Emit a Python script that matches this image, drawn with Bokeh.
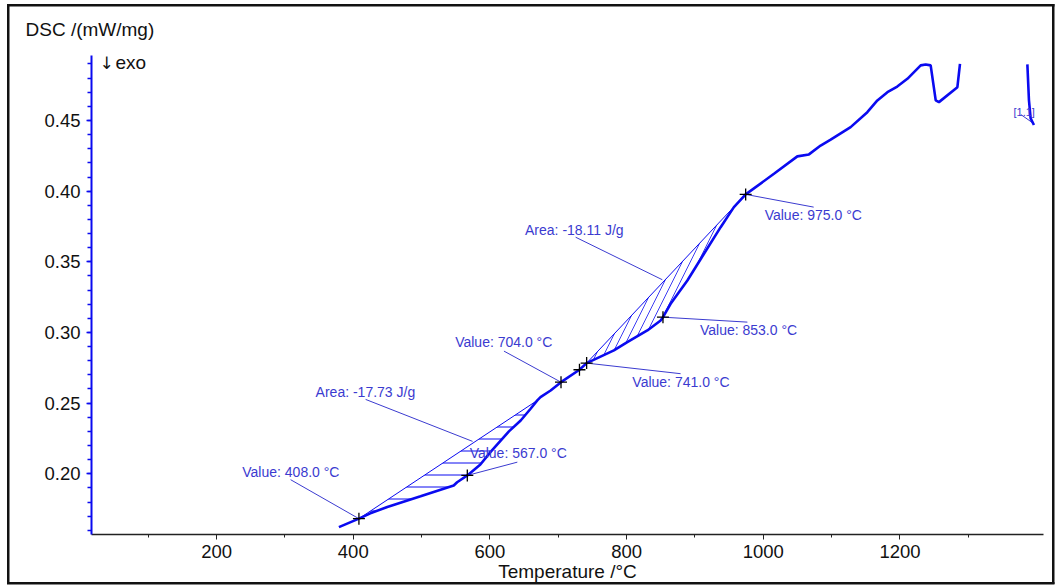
import numpy as np
from bokeh.plotting import figure
from bokeh.models import Range1d, FixedTicker, PrintfTickFormatter, Label, Title
from bokeh.embed import file_html
from bokeh.resources import INLINE

# ---------------- data ----------------
temperature = [379.0, 408.3, 425.0, 449.8, 498.5, 547.0, 552.0, 566.9, 586.0, 601.0,
               627.8, 645.0, 659.5, 669.3, 674.0, 688.8, 704.0, 731.0, 741.5, 781.4,
               801.0, 830.3, 849.8, 853.2, 864.4, 888.9, 913.2, 937.6, 957.0, 974.2,
               1015.6, 1049.8, 1066.8, 1083.9, 1098.6, 1127.8, 1152.2, 1166.9, 1181.6,
               1196.0, 1210.8, 1230.3, 1237.6, 1244.9, 1252.3, 1257.0, 1284.0, 1287.8]
dsc = [0.1622, 0.1682, 0.1720, 0.1764, 0.1840, 0.1917, 0.1940, 0.1988, 0.2065, 0.2155,
       0.2300, 0.2377, 0.2460, 0.2519, 0.2542, 0.2589, 0.2648, 0.2736, 0.2783, 0.2873,
       0.2931, 0.3014, 0.3085, 0.3108, 0.3203, 0.3368, 0.3557, 0.3745, 0.3887, 0.3977,
       0.4123, 0.4246, 0.4260, 0.4323, 0.4364, 0.4453, 0.4559, 0.4642, 0.4700,
       0.4740, 0.4795, 0.4890, 0.4897, 0.4890, 0.4642, 0.4630, 0.4736, 0.4901]

temperature_seg2 = [1386.4, 1388.7, 1391.2, 1396.0]
dsc_seg2 = [0.4897, 0.4645, 0.4515, 0.4468]

marker_t = [408.3, 566.9, 704.0, 731.0, 741.5, 853.2, 974.2]
marker_v = [0.1682, 0.1988, 0.2648, 0.2736, 0.2783, 0.3108, 0.3977]

peak1_limits = [408.3, 669.3]
peak2_limits = [741.5, 974.2]

annot_text = ["Value: 408.0 °C", "Area: -17.73 J/g", "Value: 567.0 °C", "Value: 704.0 °C",
              "Area: -18.11 J/g", "Value: 975.0 °C", "Value: 853.0 °C", "Value: 741.0 °C"]
annot_x = [237.6, 344.9, 570.3, 691.3, 795.6, 1002.0, 907.3, 808.4]
annot_y = [0.2011, 0.2578, 0.2144, 0.2931, 0.3722, 0.3833, 0.3019, 0.2648]
annot_align = ["left", "left", "left", "right", "right", "left", "left", "left"]

leader_x0 = [308.3, 418.1, 566.9, 620.5, 725.4, 974.2, 853.2, 741.5, 1376.9]
leader_y0 = [0.1958, 0.2526, 0.1988, 0.2868, 0.3674, 0.3977, 0.3108, 0.2783, 0.4542]
leader_x1 = [408.3, 574.6, 640.1, 704.0, 852.3, 1073.7, 976.7, 879.0, 1395.7]
leader_y1 = [0.1682, 0.2229, 0.2082, 0.2648, 0.3373, 0.3887, 0.3073, 0.2708, 0.4478]

x_major = [200, 400, 600, 800, 1000, 1200]
x_minor = [100, 300, 500, 700, 900, 1100, 1300]
y_major = [0.20, 0.25, 0.30, 0.35, 0.40, 0.45]
y_minor = [round(0.16 + 0.01 * i, 2) for i in range(34)]

# ---------------- layout ----------------
W, H = 1059, 585
FL, FR, FT, FB = 91, 16, 55, 51
FW, FH = W - FL - FR, H - FT - FB
X0, X1 = 17.0, 1410.0
Y0, Y1 = 0.157, 0.496

def cx(px):
    return X0 + (px - FL) * (X1 - X0) / FW

def cy(py):
    return Y1 - (py - FT) * (Y1 - Y0) / FH

FONT = "Liberation Sans"
BLUE = "#0a0af0"
ANN = "#3b3bd0"
INK = "#111111"

# outer black frame drawn as CSS background lines behind a transparent border area
bl, bt, br, bb, bw = 6.5, 4, 1054, 584, 2.5
g = "linear-gradient(#111,#111)"
frame_bg = ", ".join([
    f"{g} {bl}px {bt}px / {br - bl}px {bw}px no-repeat",
    f"{g} {bl}px {bb - bw}px / {br - bl}px {bw}px no-repeat",
    f"{g} {bl}px {bt}px / {bw}px {bb - bt}px no-repeat",
    f"{g} {br - bw}px {bt}px / {bw}px {bb - bt}px no-repeat",
    "white",
])

p = figure(width=W, height=H, x_range=Range1d(X0, X1), y_range=Range1d(Y0, Y1),
           output_backend="svg", toolbar_location=None,
           min_border_left=FL, min_border_right=FR, min_border_top=FT, min_border_bottom=FB)
p.grid.visible = False
p.outline_line_color = None
p.background_fill_color = "white"
p.border_fill_color = None
p.styles = {"background": frame_bg}

p.title = Title(text="DSC /(mW/mg)", align="left", offset=25 - FL, standoff=31,
                text_font=FONT, text_font_size="19px", text_font_style="normal",
                text_color=INK, vertical_align="bottom")

xa = p.xaxis[0]
xa.ticker = FixedTicker(ticks=x_major, minor_ticks=x_minor)
xa.axis_line_color = "#222222"
xa.axis_line_width = 1.5
xa.major_tick_line_color = "#222222"
xa.minor_tick_line_color = "#222222"
xa.major_tick_out = 5
xa.major_tick_in = 0
xa.minor_tick_out = 3
xa.minor_tick_in = 0
xa.major_label_text_font = FONT
xa.major_label_text_font_size = "18.5px"
xa.major_label_text_color = INK
xa.major_label_standoff = 5
xa.axis_label = "Temperature /°C"
xa.axis_label_text_font = FONT
xa.axis_label_text_font_size = "19px"
xa.axis_label_text_font_style = "normal"
xa.axis_label_text_color = INK
xa.axis_label_standoff = 0

ya = p.yaxis[0]
ya.ticker = FixedTicker(ticks=y_major, minor_ticks=y_minor)
ya.formatter = PrintfTickFormatter(format="%.2f")
ya.axis_line_color = BLUE
ya.axis_line_width = 2
ya.major_tick_line_color = BLUE
ya.minor_tick_line_color = BLUE
ya.major_tick_line_width = 1.5
ya.minor_tick_line_width = 1.5
ya.major_tick_out = 5
ya.major_tick_in = 0
ya.minor_tick_out = 4
ya.minor_tick_in = 0
ya.major_label_text_font = FONT
ya.major_label_text_font_size = "18.5px"
ya.major_label_text_color = INK
ya.major_label_standoff = 6

# hatched areas between curve and baseline
t_arr = np.array(temperature)
v_arr = np.array(dsc)
m1 = (t_arr >= peak1_limits[0]) & (t_arr <= peak1_limits[1])
m2 = (t_arr >= peak2_limits[0]) & (t_arr <= peak2_limits[1])
p.patch(t_arr[m1], v_arr[m1], fill_alpha=0, line_color=None,
        hatch_pattern="horizontal_line", hatch_color=BLUE, hatch_weight=1, hatch_scale=12)
p.patch(t_arr[m2], v_arr[m2], fill_alpha=0, line_color=None,
        hatch_pattern="right_diagonal_line", hatch_color=BLUE, hatch_weight=0.8, hatch_scale=16)

# baselines
for m in (m1, m2):
    tt, vv = t_arr[m], v_arr[m]
    p.line([tt[0], tt[-1]], [vv[0], vv[-1]], line_color=BLUE, line_width=1)

# leader lines
p.segment(x0=leader_x0, y0=leader_y0, x1=leader_x1, y1=leader_y1, line_color=ANN, line_width=1)

# curve
p.line(temperature, dsc, line_color=BLUE, line_width=2.6)
p.line(temperature_seg2, dsc_seg2, line_color=BLUE, line_width=2.6)

# markers
p.scatter(marker_t, marker_v, marker="cross", size=12, line_color="black", line_width=1.3)

# annotation texts
for txt, x, y, al in zip(annot_text, annot_x, annot_y, annot_align):
    p.add_layout(Label(x=x, y=y, text=txt, text_align=al, text_baseline="middle",
                       text_font=FONT, text_font_size="14px", text_color=ANN))
p.add_layout(Label(x=cx(1013), y=cy(111), text="[1.1]", text_align="left", text_baseline="middle",
                   text_font=FONT, text_font_size="11px", text_color=ANN))
p.add_layout(Label(x=cx(99), y=cy(62), text="\u2193", text_align="left", text_baseline="middle",
                   text_font="DejaVu Sans", text_font_size="17px", text_color=INK))
p.add_layout(Label(x=cx(115), y=cy(62), text="exo", text_align="left", text_baseline="middle",
                   text_font=FONT, text_font_size="19px", text_color=INK))

open("out.html", "w").write(file_html(p, INLINE))
